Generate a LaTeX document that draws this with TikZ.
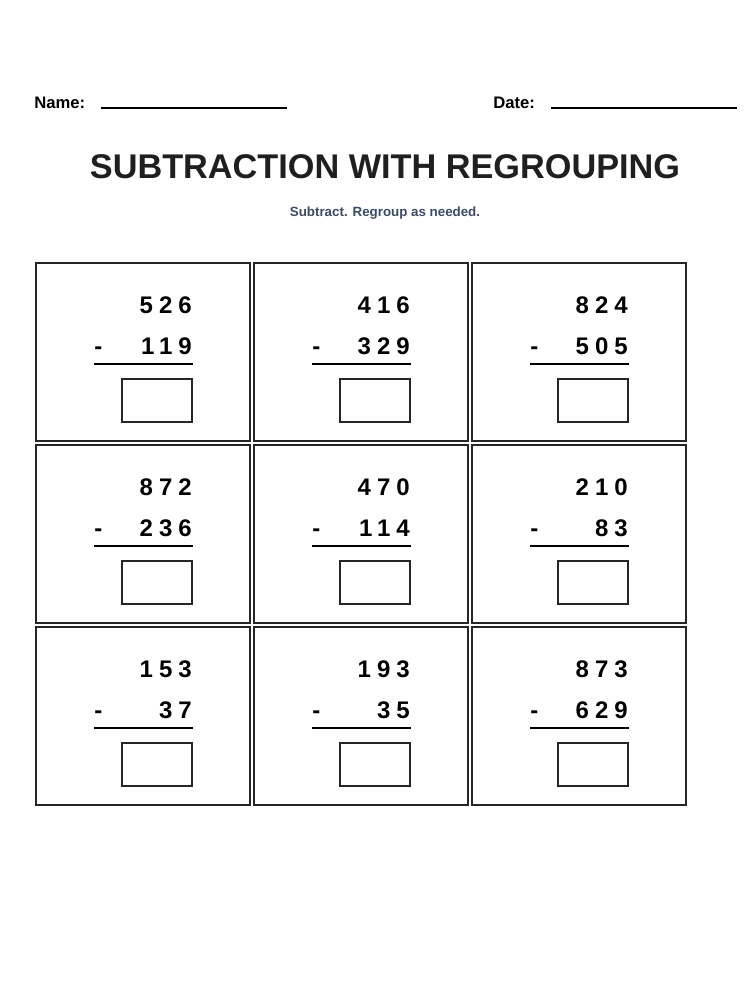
\documentclass[tikz,border=0pt]{standalone}
\usepackage{fontspec}
\setmainfont{Liberation Sans}
\definecolor{slate}{HTML}{3B4A66}
\begin{document}
\begin{tikzpicture}[x=0.75pt,y=-0.75pt,
  cell/.style={draw=black!85,line width=1.5pt},
  ans/.style={draw=black!85,line width=2pt},
  num/.style={anchor=base east,inner sep=0pt,font=\fontsize{18}{20}\selectfont\bfseries\addfontfeature{LetterSpace=25}},
  minus/.style={anchor=base west,inner sep=0pt,font=\fontsize{18}{20}\selectfont\bfseries}]
\useasboundingbox (0,0) rectangle (750,1000);
\node[anchor=base west,inner sep=0pt,font=\fontsize{12.5}{14}\selectfont\bfseries] (nm) at (34,108) {Name:};
\draw[line width=1pt] (101,108) coordinate (n1) -- (287,108) coordinate (n2);
\node[anchor=base west,inner sep=0pt,font=\fontsize{12.5}{14}\selectfont\bfseries] (dt) at (493,108) {Date:};
\draw[line width=1pt] (551,108) coordinate (d1) -- (737,108) coordinate (d2);
\node[inner sep=0pt,font=\fontsize{25.7}{28}\selectfont\bfseries,text=black!88] (title) at (385,167) {SUBTRACTION WITH REGROUPING};
\node[inner sep=0pt,font=\fontsize{10}{12}\selectfont\bfseries,text=slate] (sub) at (385,213) {Subtract. Regroup as needed.};
\foreach \r/\c/\a/\b [count=\i] in {0/0/526/119,0/1/416/329,0/2/824/505,1/0/872/236,1/1/470/114,1/2/210/83,2/0/153/37,2/1/193/35,2/2/873/629}{
  \pgfmathsetmacro\X{36+218*\c}
  \pgfmathsetmacro\Y{263+182*\r}
  \draw[cell] (\X,\Y) rectangle ++(214,178);
  \node[num] (t\i) at (\X+156,\Y+50) {\a};
  \node[num] (b\i) at (\X+156,\Y+91) {\b};
  \node[minus] (m\i) at (\X+58,\Y+91) {-};
  \draw[line width=2pt] (\X+58,\Y+101) -- (\X+157,\Y+101);
  \draw[ans] (\X+86,\Y+116) rectangle ++(70,43);
}
\end{tikzpicture}
\end{document}
